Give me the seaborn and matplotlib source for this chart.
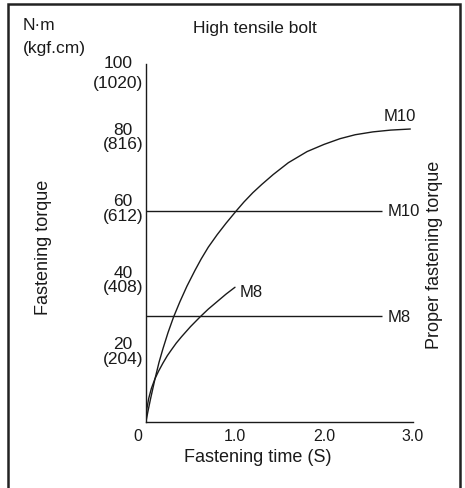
import numpy as np
import pandas as pd
import matplotlib
matplotlib.use("Agg")
import matplotlib.pyplot as plt
import seaborn as sns
from matplotlib.patches import Rectangle
from matplotlib.transforms import ScaledTranslation

# Curves (time in s, torque in N·m)
m10_time = [0, 0.02, 0.05, 0.10, 0.146, 0.19, 0.247, 0.31, 0.38, 0.46, 0.55,
            0.62, 0.70, 0.80, 0.90, 1.02, 1.10, 1.20, 1.30, 1.43, 1.60, 1.81,
            2.00, 2.18, 2.35, 2.55, 2.75, 2.97]
m10_torque = [0, 2.6, 6.2, 11.8, 16.5, 20.3, 24.8, 29.2, 33.4, 37.8, 42.2,
              45.4, 48.7, 52.2, 55.4, 59.0, 61.3, 63.9, 66.2, 69.0, 72.3, 75.4,
              77.4, 79.0, 80.1, 80.9, 81.4, 81.7]
m8_time = [0, 0.01, 0.03, 0.06, 0.10, 0.14, 0.19, 0.24, 0.285, 0.34, 0.40,
           0.50, 0.607, 0.70, 0.80, 0.90, 1.0]
m8_torque = [0, 3.6, 6.4, 9.2, 11.9, 14.0, 16.3, 18.4, 20.0, 21.9, 23.7,
             26.5, 29.2, 31.4, 33.5, 35.6, 37.5]

# proper fastening torque lines
proper_names = ["M10", "M8"]
proper_torque = [58.8, 29.4]
proper_end = [2.65, 2.65]

y_ticks = [20, 40, 60, 80, 100]
y_labels = ["20\n(204)", "40\n(408)", "60\n(612)", "80\n(816)", "100\n(1020)"]
x_ticks = [0, 1, 2, 3]
x_labels = ["0", "1.0", "2.0", "3.0"]

sns.set_style("white")
plt.rcParams["font.family"] = ["Liberation Sans", "DejaVu Sans"]

W, H = 465, 489
fig = plt.figure(figsize=(W / 100, H / 100), dpi=100)


def fx(px):
    return px / W


def fy(py):
    return 1 - py / H


ax = fig.add_axes([fx(146), fy(422.5), fx(413) - fx(146), fy(64.5) - fy(422.5)])
ink = "#1a1a1a"

curves = pd.concat([
    pd.DataFrame({"time": m10_time, "torque": m10_torque, "bolt": "M10"}),
    pd.DataFrame({"time": m8_time, "torque": m8_torque, "bolt": "M8"}),
])
sns.lineplot(data=curves, x="time", y="torque", units="bolt", estimator=None,
             color=ink, linewidth=1.0, sort=False, ax=ax)

for name, val, end in zip(proper_names, proper_torque, proper_end):
    ax.hlines(val, 0, end, color=ink, linewidth=1.0)
    ax.text(end + 0.06, val, name, ha="left", va="center", fontsize=12,
            color=ink)

ax.text(2.85, 83.3, "M10", ha="center", va="bottom", fontsize=12, color=ink)
ax.text(1.05, 36.4, "M8", ha="left", va="center", fontsize=12, color=ink)

ax.set_xlim(0, 3)
ax.set_ylim(0, 100)
sns.despine(ax=ax)
for s in ["left", "bottom"]:
    ax.spines[s].set_color(ink)
    ax.spines[s].set_linewidth(1.0)

ax.tick_params(axis="y", direction="in", length=5, width=1, pad=2, colors=ink)
ax.tick_params(axis="x", direction="in", length=9.5, width=1, pad=5, colors=ink)
ax.set_yticks(y_ticks)
ax.set_yticklabels(y_labels, fontsize=12.5, linespacing=0.95, color=ink,
                   multialignment="center")
ax.set_xticks(x_ticks)
ax.set_xticklabels(x_labels, fontsize=11.5, color=ink)
ax.set_xlabel("")
ax.set_ylabel("")

# top label sits lower and with wider line gap
top_lab = ax.get_yticklabels()[-1]
top_lab.set_linespacing(1.4)
top_lab.set_transform(top_lab.get_transform()
                      + ScaledTranslation(0, -5 / 100, fig.dpi_scale_trans))
zero_lab = ax.get_xticklabels()[0]
zero_lab.set_transform(zero_lab.get_transform()
                       + ScaledTranslation(-8 / 100, 0, fig.dpi_scale_trans))

fig.text(fx(258), fy(458), "Fastening time (S)", ha="center", va="center",
         fontsize=13, color=ink)
fig.text(fx(43), fy(247), "Fastening torque", ha="center", va="center",
         rotation=90, fontsize=13, color=ink)
fig.text(fx(434), fy(255), "Proper fastening torque", ha="center", va="center",
         rotation=90, fontsize=13, color=ink)
fig.text(fx(255), fy(29), "High tensile bolt", ha="center", va="center",
         fontsize=12.5, color=ink)
fig.text(fx(23), fy(26), "N·m", ha="left", va="center", fontsize=12.5,
         color=ink)
fig.text(fx(23), fy(49), "(kgf.cm)", ha="left", va="center", fontsize=12.5,
         color=ink)

# outer frame
fig.patches.append(Rectangle((fx(8), -0.05), fx(460) - fx(8), fy(5) + 0.05,
                             transform=fig.transFigure, fill=False,
                             edgecolor="#222222", linewidth=1.8))

fig.savefig("out.png", dpi=100)
